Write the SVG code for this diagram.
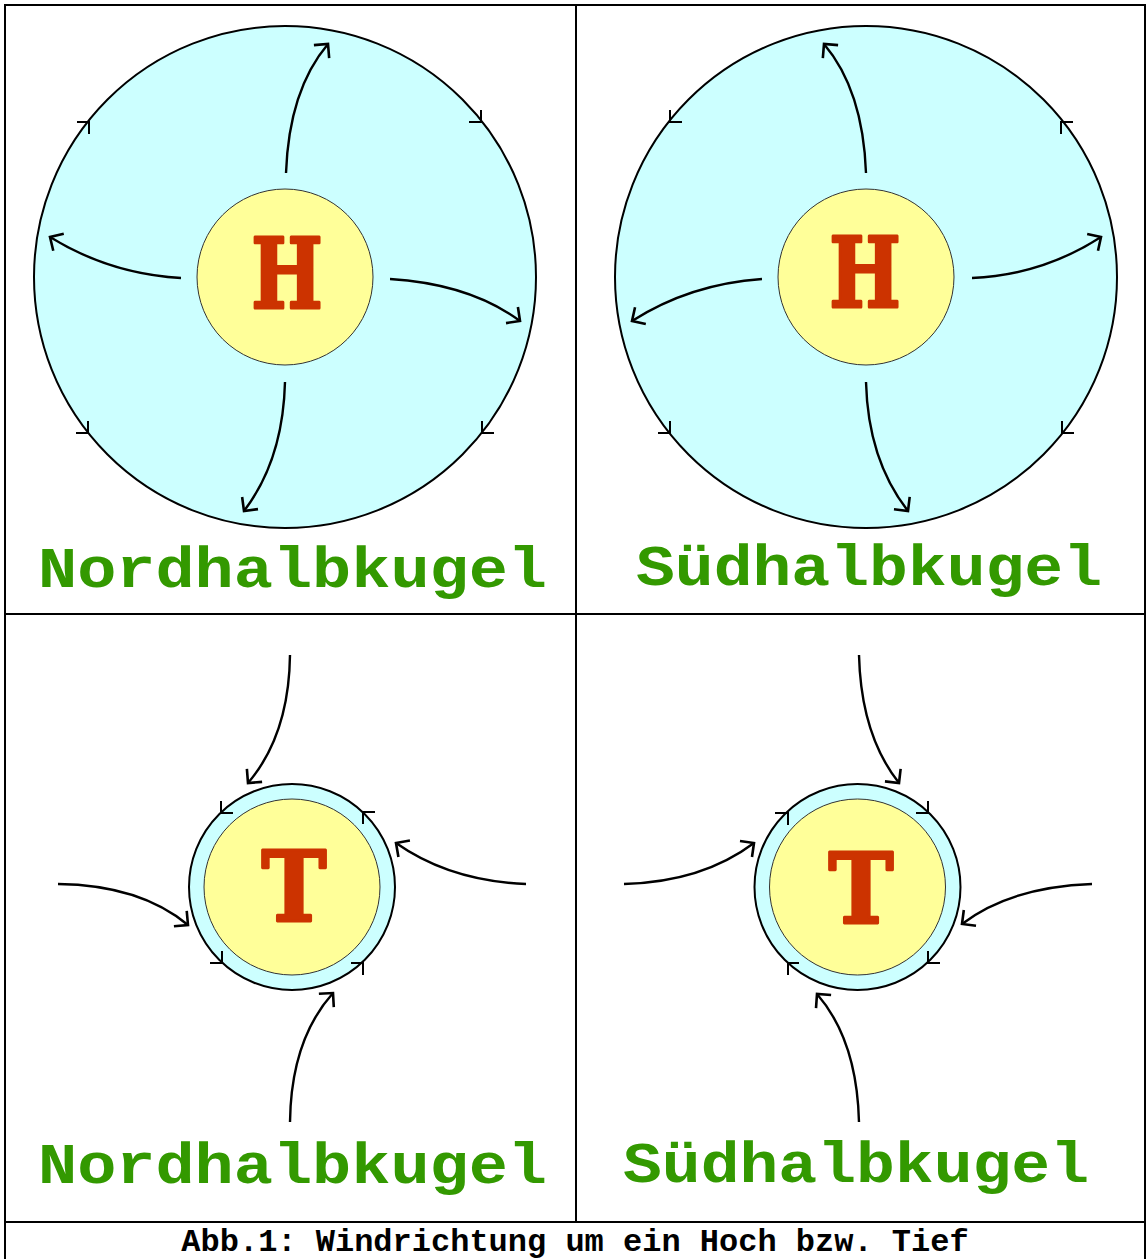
<svg xmlns="http://www.w3.org/2000/svg" width="1146" height="1259" viewBox="0 0 1146 1259">
  <defs>
    <marker id="head" markerUnits="userSpaceOnUse" markerWidth="30" markerHeight="30" viewBox="-15 -15 30 30" refX="0" refY="0" orient="auto">
      <path d="M-10,-10 L0,0 L-10,10" fill="none" stroke="#000" stroke-width="2.6"/>
    </marker>
  </defs>
  <style>
    .frame { stroke: #000; stroke-width: 2; fill: none; }
    .zone { fill: #ccffff; stroke: #000; stroke-width: 2; }
    .core { fill: #ffff99; stroke: #333; stroke-width: 1; }
    .sym { font-family: "DejaVu Serif", "Liberation Serif", serif; font-weight: bold; font-size: 97px; fill: #cc3300; stroke: #cc3300; stroke-width: 3; stroke-linejoin: round; text-anchor: middle; }
    .label { font-family: "Courier New", "Liberation Mono", monospace; font-weight: bold; font-size: 58px; fill: #339900; }
    .caption { font-family: "Courier New", "Liberation Mono", monospace; font-weight: bold; font-size: 32px; fill: #000; text-anchor: middle; }
    .wind { fill: none; stroke: #000; stroke-width: 2.4; marker-end: url(#head); }
    .tick { fill: none; stroke: #000; stroke-width: 2; }
  </style>

  <rect width="1146" height="1259" fill="#fff"/>

  <!-- table frame -->
  <g id="frame">
    <line class="frame" x1="4" y1="5" x2="1146" y2="5"/>
    <line class="frame" x1="5" y1="4" x2="5" y2="1259"/>
    <line class="frame" x1="1145" y1="4" x2="1145" y2="1259"/>
    <line class="frame" x1="576" y1="5" x2="576" y2="1222"/>
    <line class="frame" x1="5" y1="614" x2="1146" y2="614"/>
    <line class="frame" x1="5" y1="1222" x2="1146" y2="1222"/>
  </g>

  <!-- high pressure, northern hemisphere -->
  <g id="high-north">
    <circle class="zone" cx="285" cy="277" r="251"/>
    <circle class="core" cx="285" cy="277" r="88"/>
    <text class="sym" transform="translate(287,307.5) scale(0.78,1)">H</text>
    <path class="tick" d="M77,122 L89,122 L89,134"/>
    <path class="tick" d="M469,122 L481,122 L481,110"/>
    <path class="tick" d="M482,421 L482,433 L494,433"/>
    <path class="tick" d="M88,421 L88,433 L76,433"/>
    <text class="label" x="38" y="587" textLength="509" lengthAdjust="spacingAndGlyphs">Nordhalbkugel</text>
  </g>

  <!-- high pressure, southern hemisphere -->
  <g id="high-south">
    <circle class="zone" cx="866" cy="277" r="251"/>
    <circle class="core" cx="866" cy="277" r="88"/>
    <text class="sym" transform="translate(865,306.5) scale(0.78,1)">H</text>
    <path class="tick" d="M670,110 L670,122 L682,122"/>
    <path class="tick" d="M1073,122 L1061,122 L1061,134"/>
    <path class="tick" d="M670,421 L670,433 L658,433"/>
    <path class="tick" d="M1062,421 L1062,433 L1074,433"/>
    <text class="label" x="636" y="585" textLength="466" lengthAdjust="spacingAndGlyphs">Südhalbkugel</text>
  </g>

  <!-- low pressure, northern hemisphere -->
  <g id="low-north">
    <circle class="zone" cx="292" cy="887" r="103" stroke-width="2.4"/>
    <circle class="core" cx="292" cy="887" r="88"/>
    <text class="sym" transform="translate(294,920.5) scale(0.9,1)">T</text>
    <path class="tick" d="M221,801 L221,813 L233,813"/>
    <path class="tick" d="M375,812 L363,812 L363,824"/>
    <path class="tick" d="M222,951 L222,963 L210,963"/>
    <path class="tick" d="M351,963 L363,963 L363,975"/>
    <text class="label" x="38" y="1183" textLength="509" lengthAdjust="spacingAndGlyphs">Nordhalbkugel</text>
  </g>

  <!-- low pressure, southern hemisphere -->
  <g id="low-south">
    <circle class="zone" cx="857.5" cy="887" r="103" stroke-width="2.4"/>
    <circle class="core" cx="857.5" cy="887" r="88"/>
    <text class="sym" transform="translate(861,922.5) scale(0.9,1)">T</text>
    <path class="tick" d="M775,813 L788,813 L788,825"/>
    <path class="tick" d="M928,801 L928,813 L916,813"/>
    <path class="tick" d="M928,951 L928,963 L940,963"/>
    <path class="tick" d="M799,963 L788,963 L788,975"/>
    <text class="label" x="623" y="1182" textLength="466" lengthAdjust="spacingAndGlyphs">Südhalbkugel</text>
  </g>

  <!-- wind arrows -->
  <g id="connectors">
    <!-- outflow around the highs -->
    <path class="wind" d="M286,173 Q289,90 328,44"/>
    <path class="wind" d="M390,279 Q470,284 520,321"/>
    <path class="wind" d="M285,382 Q283,460 244,511"/>
    <path class="wind" d="M181,278 Q110,274 50,237"/>

    <path class="wind" d="M866,173 Q863,90 824,44"/>
    <path class="wind" d="M972,278 Q1042,275 1101,237"/>
    <path class="wind" d="M762,279 Q690,284 632,321"/>
    <path class="wind" d="M866,382 Q868,460 908,511"/>

    <!-- inflow into the lows -->
    <path class="wind" d="M290,655 Q289,735 248,783"/>
    <path class="wind" d="M526,884 Q450,881 396,843"/>
    <path class="wind" d="M290,1122 Q291,1040 333,993"/>
    <path class="wind" d="M58,884 Q140,885 188,925"/>

    <path class="wind" d="M859,655 Q861,735 899,783"/>
    <path class="wind" d="M1092,884 Q1010,887 962,924"/>
    <path class="wind" d="M859,1122 Q857,1040 817,994"/>
    <path class="wind" d="M624,884 Q702,882 754,843"/>
  </g>

  <text id="caption" class="caption" x="575" y="1251">Abb.1: Windrichtung um ein Hoch bzw. Tief</text>
</svg>
